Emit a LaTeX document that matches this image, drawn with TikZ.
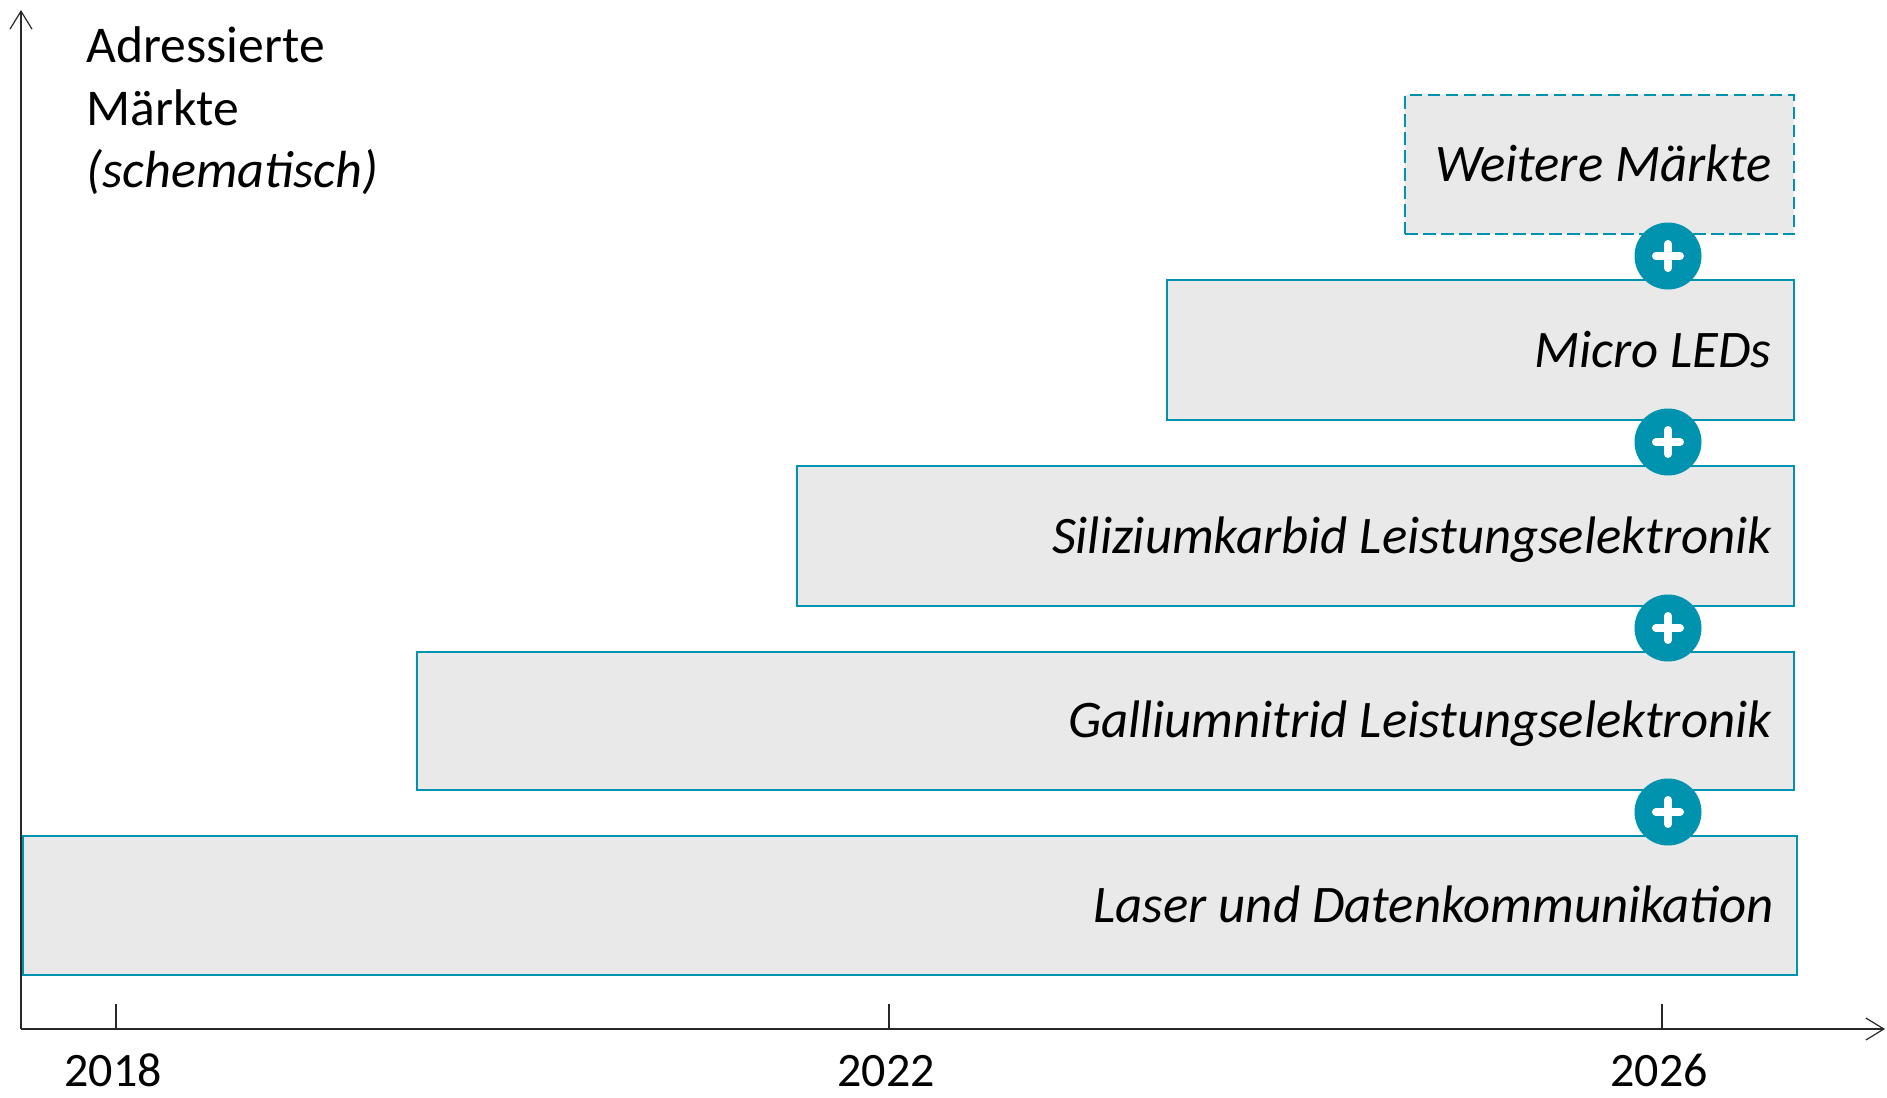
\documentclass[tikz,border=0pt]{standalone}
\usepackage{fontspec}
\setmainfont{Carlito}
\usetikzlibrary{arrows.meta}
\definecolor{teal}{RGB}{0,147,176}
\definecolor{boxgray}{RGB}{233,233,233}
\definecolor{axisgray}{RGB}{40,40,40}
\tikzset{
  market/.style={draw=teal, fill=boxgray, line width=1pt, rectangle, inner sep=0pt, anchor=north east},
  marketlabel/.style={anchor=base east, inner sep=0pt, font=\fontsize{26.4}{31}\selectfont\itshape},
  plusdot/.style={circle, fill=teal, minimum size=33.5pt, inner sep=0pt},
  plusbar/.style={white, line width=4pt, line cap=round},
  axisline/.style={axisgray, line width=0.75pt, -{Straight Barb[length=9pt,width=11pt,line width=0.6pt]}},
  tickline/.style={axisgray, line width=0.6pt},
  yearlabel/.style={anchor=base, inner sep=0pt, font=\fontsize{24}{28}\selectfont},
  headlabel/.style={anchor=base west, inner sep=0pt, font=\fontsize{25.8}{31}\selectfont}
}
\begin{document}
\begin{tikzpicture}[x=0.5pt,y=-0.5pt]
\useasboundingbox (0,0) rectangle (1887,1098);
% boxes
\node[market, dashed, dash pattern=on 6.25pt off 2.75pt, minimum width=194.5pt, minimum height=69.5pt] (weitere) at (1795,94) {};
\node[market, minimum width=313.5pt, minimum height=70pt] (micro) at (1795,279) {};
\node[market, minimum width=498.5pt, minimum height=70pt] (sic) at (1795,465) {};
\node[market, minimum width=688.5pt, minimum height=69pt] (gan) at (1795,651) {};
\node[market, minimum width=887pt, minimum height=69.5pt] (laser) at (1798,835) {};
% labels
\node[marketlabel] (tweitere) at (1772,181) {Weitere Märkte};
\node[marketlabel] (tmicro) at (1772,367) {Micro LEDs};
\node[marketlabel] (tsic) at (1772,553) {Siliziumkarbid Leistungselektronik};
\node[marketlabel] (tgan) at (1772,737) {Galliumnitrid Leistungselektronik};
\node[marketlabel] (tlaser) at (1774,922) {Laser und Datenkommunikation};
% plus circles
\foreach \n/\y in {p1/256, p2/442, p3/628, p4/812}{
  \node[plusdot] (\n) at (1668,\y) {};
  \draw[plusbar] ([xshift=-6pt]\n.center) -- ([xshift=6pt]\n.center);
  \draw[plusbar] ([yshift=-6pt]\n.center) -- ([yshift=6pt]\n.center);
}
% axes
\coordinate (origin) at (21,1029);
\coordinate (ytip) at (21,10);
\coordinate (xtip) at (1885,1029);
\draw[axisline] (origin) -- (ytip);
\draw[axisline] (origin) -- (xtip);
% ticks and years
\foreach \n/\x/\yr in {t18/116/2018, t22/889/2022, t26/1662/2026}{
  \coordinate (\n) at (\x,1029);
  \draw[tickline] (\n) -- ++(0,-25);
  \node[yearlabel] (y\yr) at (\x-3,1086) {\yr};
}
% heading
\node[headlabel] (h1) at (86,62) {Adressierte};
\node[headlabel] (h2) at (86,125) {Märkte};
\node[headlabel, font=\fontsize{26.1}{31}\selectfont\itshape] (h3) at (86,187) {(schematisch)};
\end{tikzpicture}
\end{document}
